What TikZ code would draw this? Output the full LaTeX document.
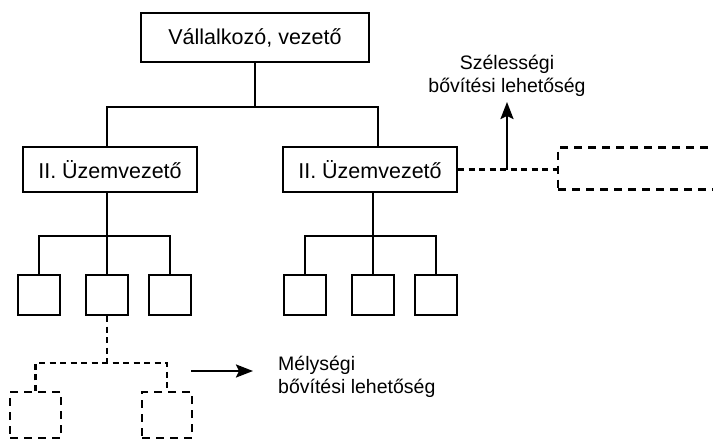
\documentclass[tikz,border=0pt]{standalone}
\usepackage{fontspec}
\setmainfont{Liberation Sans}
\usetikzlibrary{arrows.meta}
\begin{document}
\begin{tikzpicture}[x=1pt,y=-1pt,
  box/.style={draw,line width=2.2pt,inner sep=0pt,font=\fontsize{21.5}{26}\selectfont},
  leaf/.style={draw,line width=2.2pt,minimum width=42pt,minimum height=40pt,inner sep=0pt},
  dbox/.style={draw,line width=2.2pt,dash pattern=on 8pt off 6pt,inner sep=0pt},
  conn/.style={line width=2.2pt},
  dconn/.style={line width=2.2pt,dash pattern=on 6pt off 4.5pt},
  arr/.style={line width=2.2pt,-{Stealth[length=17pt,width=13pt,inset=3pt]}},
  note/.style={inner sep=0pt,font=\fontsize{19.5}{23}\selectfont}]
\clip (0,0) rectangle (713,439);
% top
\node[box,minimum width=228pt,minimum height=49pt] (top) at (255,37.5) {Vállalkozó, vezető};
\node[box,minimum width=174pt,minimum height=45pt] (L) at (110,169.5) {II. Üzemvezető};
\node[box,minimum width=174pt,minimum height=45pt] (R) at (370,169.5) {II. Üzemvezető};
% leaves
\node[leaf] (l1) at (39,295) {};
\node[leaf] (l2) at (107,295) {};
\node[leaf] (l3) at (170,295) {};
\node[leaf] (r1) at (305,295) {};
\node[leaf] (r2) at (373,295) {};
\node[leaf] (r3) at (436,295) {};
% dashed extensions
\node[dbox,minimum width=51pt,minimum height=46pt] (d1) at (35.5,415) {};
\node[dbox,minimum width=50pt,minimum height=46pt] (d2) at (167,415) {};
\node[dbox,minimum width=180pt,minimum height=42pt,anchor=west] (ext) at (557,168.5) {};
% notes
\node[note,anchor=north,align=center] (szel) at (507,54.5) {Szélességi\\bővítési lehetőség};
\node[note,anchor=north west,align=left] (mely) at (278,355.5) {Mélységi\\bővítési lehetőség};
% connectors
\draw[conn] (top.south) -- ++(0,44) coordinate (bus) -| ([xshift=-3pt]L.north);
\draw[conn] (bus) -| ([xshift=8pt]R.north);
\draw[conn] ([xshift=-3pt]L.south) -- (l2.north);
\draw[conn] (l1.north) -- ++(0,-38) -| (l3.north);
\draw[conn] ([xshift=3pt]R.south) -- (r2.north);
\draw[conn] (r1.north) -- ++(0,-38) -| (r3.north);
% dashed connectors
\draw[dconn] (l2.south) -- ++(0,47) coordinate (db);
\draw[dconn] (d1.north) |- (db) -| (d2.north);
\draw[dconn] (R.east) -- (ext.west |- R.east);
% arrows
\coordinate (up) at (507,169.5);
\coordinate (uptip) at (507,102);
\draw[arr] (up) -- (uptip);
\coordinate (ma) at (191,371);
\coordinate (mb) at (253,371);
\draw[arr] (ma) -- (mb);
\end{tikzpicture}
\end{document}
